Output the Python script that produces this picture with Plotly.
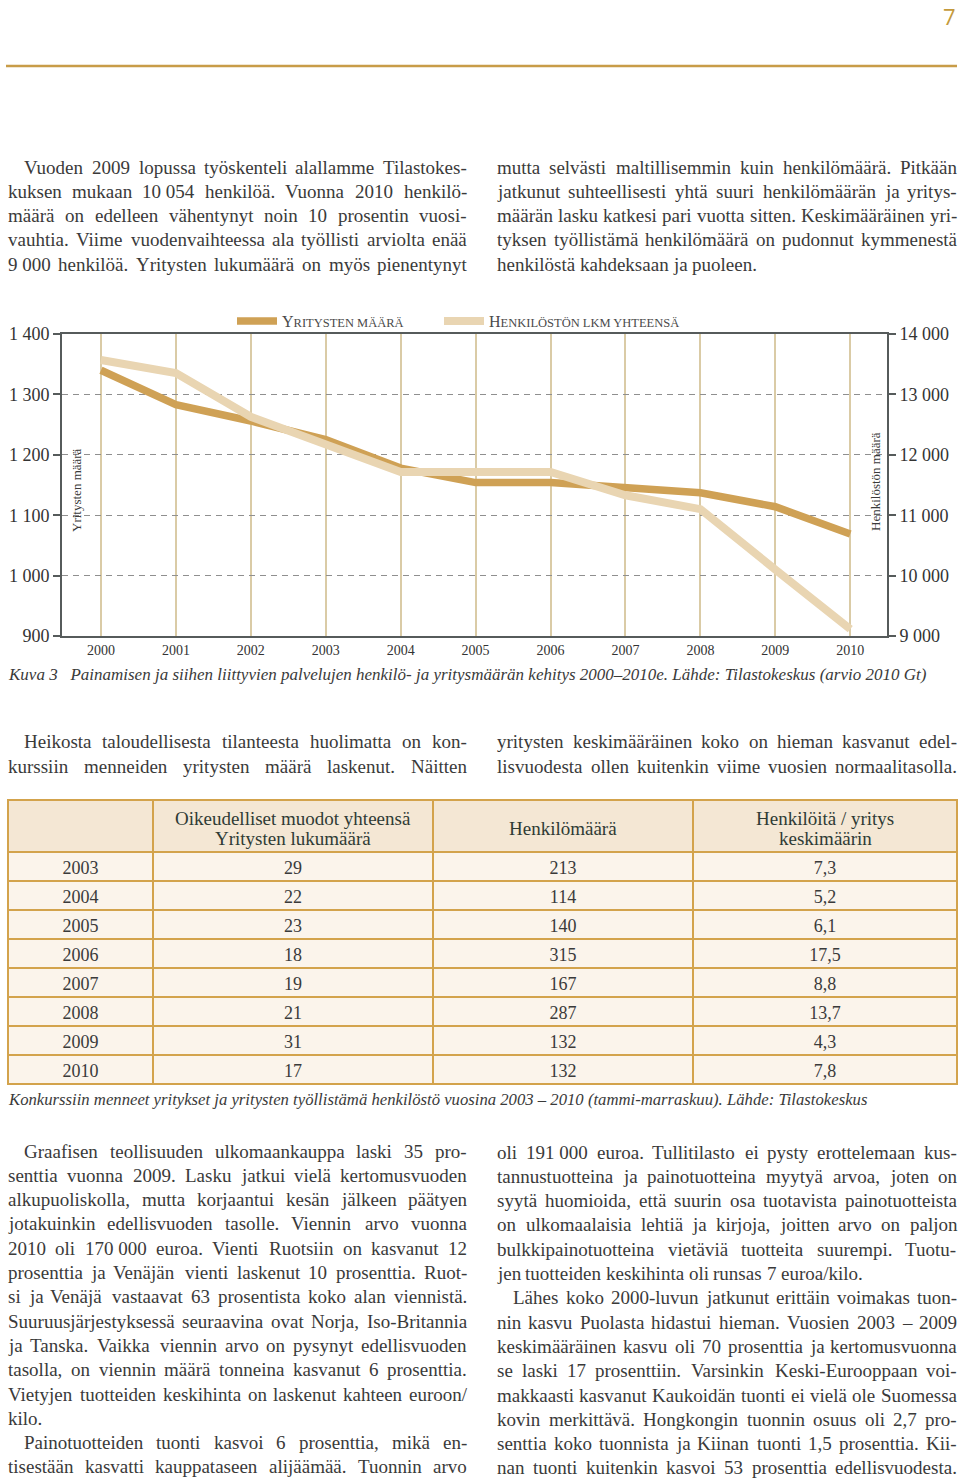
import plotly.graph_objects as go

# ---------------- data ----------------
years = [2000, 2001, 2002, 2003, 2004, 2005, 2006, 2007, 2008, 2009, 2010]
yritykset = [1340, 1283, 1256, 1225, 1178, 1154, 1154, 1144, 1137, 1114, 1069]
henkilosto = [13570, 13355, 12630, 12190, 11715, 11715, 11715, 11330, 11100, 10100, 9115]

left_ticks = [900, 1000, 1100, 1200, 1300, 1400]
left_ticktext = ["900", "1 000", "1 100", "1 200", "1 300", "1 400"]
right_ticks = [9000, 10000, 11000, 12000, 13000, 14000]
right_ticktext = ["9 000", "10 000", "11 000", "12 000", "13 000", "14 000"]

t_years = ["2003", "2004", "2005", "2006", "2007", "2008", "2009", "2010"]
t_companies = [29, 22, 23, 18, 19, 21, 31, 17]
t_persons = [213, 114, 140, 315, 167, 287, 132, 132]
t_ratio = ["7,3", "5,2", "6,1", "17,5", "8,8", "13,7", "4,3", "7,8"]
t_header = [[""], ["Oikeudelliset muodot yhteensä", "Yritysten lukumäärä"],
            ["Henkilömäärä"], ["Henkilöitä / yritys", "keskimäärin"]]

# ---------------- page geometry helpers ----------------
W, H = 960, 1482
def X(px):
    return px / W
def Y(py):
    return 1 - py / H

SERIF = "Liberation Serif"
TEXT = "#3a3a3a"
DARK = "#CFA155"
LIGHT = "#E9D5B2"
GOLD = "#D3A34C"

# Times / Liberation Serif advance widths (units per 1000)
CW = {' ': 250, '!': 333, '(': 333, ')': 333, ',': 250, '-': 333, '.': 250, '/': 278,
      ':': 278, ';': 278, '–': 500, '\u00a0': 250,
      'A': 722, 'B': 667, 'C': 667, 'D': 722, 'E': 611, 'F': 556, 'G': 722, 'H': 722,
      'I': 333, 'J': 389, 'K': 722, 'L': 611, 'M': 889, 'N': 722, 'O': 722, 'P': 556,
      'Q': 722, 'R': 667, 'S': 556, 'T': 611, 'U': 722, 'V': 722, 'W': 944, 'X': 722,
      'Y': 722, 'Z': 611, 'Ä': 722, 'Ö': 722,
      'a': 444, 'b': 500, 'c': 444, 'd': 500, 'e': 444, 'f': 333, 'g': 500, 'h': 500,
      'i': 278, 'j': 278, 'k': 500, 'l': 278, 'm': 778, 'n': 500, 'o': 500, 'p': 500,
      'q': 500, 'r': 333, 's': 389, 't': 278, 'u': 500, 'v': 500, 'w': 722, 'x': 500,
      'y': 500, 'z': 444, 'ä': 444, 'ö': 500}
def tw(s, size):
    return sum(CW.get(c, 500) for c in s) * size / 1000.0

BODY = 19
annotations = []

def note(x, y, text, size, color=TEXT, xanchor="left", yanchor="middle", family=SERIF, angle=0):
    annotations.append(dict(x=X(x), y=Y(y), xref="paper", yref="paper", text=text,
                            showarrow=False, xanchor=xanchor, yanchor=yanchor,
                            textangle=angle, borderpad=0, borderwidth=0,
                            font=dict(family=family, size=size, color=color)))

def add_block(lines, left, right, y0, step=24.3, indent=16):
    for i, (txt, ind, just) in enumerate(lines):
        y = y0 + i * step
        x0 = left + (indent if ind else 0)
        words = txt.split(' ')
        widths = [tw(w, BODY) for w in words]
        if just and len(words) > 1:
            gap = (right - x0 - sum(widths)) / (len(words) - 1)
        else:
            gap = tw(' ', BODY)
        x = x0
        for w, wd in zip(words, widths):
            note(x, y, w, BODY)
            x += wd + gap

NBSP = "\u00a0"
top_left = [
    ("Vuoden 2009 lopussa työskenteli alallamme Tilastokes-", True, True),
    ("kuksen mukaan 10" + NBSP + "054 henkilöä. Vuonna 2010 henkilö-", False, True),
    ("määrä on edelleen vähentynyt noin 10 prosentin vuosi-", False, True),
    ("vauhtia. Viime vuodenvaihteessa ala työllisti arviolta enää", False, True),
    ("9" + NBSP + "000 henkilöä. Yritysten lukumäärä on myös pienentynyt", False, True),
]
top_right = [
    ("mutta selvästi maltillisemmin kuin henkilömäärä. Pitkään", False, True),
    ("jatkunut suhteellisesti yhtä suuri henkilömäärän ja yritys-", False, True),
    ("määrän lasku katkesi pari vuotta sitten. Keskimääräinen yri-", False, True),
    ("tyksen työllistämä henkilömäärä on pudonnut kymmenestä", False, True),
    ("henkilöstä kahdeksaan ja puoleen.", False, False),
]
mid_left = [
    ("Heikosta taloudellisesta tilanteesta huolimatta on kon-", True, True),
    ("kurssiin menneiden yritysten määrä laskenut. Näitten", False, True),
]
mid_right = [
    ("yritysten keskimääräinen koko on hieman kasvanut edel-", False, True),
    ("lisvuodesta ollen kuitenkin viime vuosien normaalitasolla.", False, True),
]
bot_left = [
    ("Graafisen teollisuuden ulkomaankauppa laski 35 pro-", True, True),
    ("senttia vuonna 2009. Lasku jatkui vielä kertomusvuoden", False, True),
    ("alkupuoliskolla, mutta korjaantui kesän jälkeen päätyen", False, True),
    ("jotakuinkin edellisvuoden tasolle. Viennin arvo vuonna", False, True),
    ("2010 oli 170" + NBSP + "000 euroa. Vienti Ruotsiin on kasvanut 12", False, True),
    ("prosenttia ja Venäjän vienti laskenut 10 prosenttia. Ruot-", False, True),
    ("si ja Venäjä vastaavat 63 prosentista koko alan viennistä.", False, True),
    ("Suuruusjärjestyksessä seuraavina ovat Norja, Iso-Britannia", False, True),
    ("ja Tanska. Vaikka viennin arvo on pysynyt edellisvuoden", False, True),
    ("tasolla, on viennin määrä tonneina kasvanut 6 prosenttia.", False, True),
    ("Vietyjen tuotteiden keskihinta on laskenut kahteen euroon/", False, True),
    ("kilo.", False, False),
    ("Painotuotteiden tuonti kasvoi 6 prosenttia, mikä en-", True, True),
    ("tisestään kasvatti kauppataseen alijäämää. Tuonnin arvo", False, True),
]
bot_right = [
    ("oli 191" + NBSP + "000 euroa. Tullitilasto ei pysty erottelemaan kus-", False, True),
    ("tannustuotteina ja painotuotteina myytyä arvoa, joten on", False, True),
    ("syytä huomioida, että suurin osa tuotavista painotuotteista", False, True),
    ("on ulkomaalaisia lehtiä ja kirjoja, joitten arvo on paljon", False, True),
    ("bulkkipainotuotteina vietäviä tuotteita suurempi. Tuotu-", False, True),
    ("jen tuotteiden keskihinta oli runsas 7 euroa/kilo.", False, False),
    ("Lähes koko 2000-luvun jatkunut erittäin voimakas tuon-", True, True),
    ("nin kasvu Puolasta hidastui hieman. Vuosien 2003 – 2009", False, True),
    ("keskimääräinen kasvu oli 70 prosenttia ja kertomusvuonna", False, True),
    ("se laski 17 prosenttiin. Varsinkin Keski-Eurooppaan voi-", False, True),
    ("makkaasti kasvanut Kaukoidän tuonti ei vielä ole Suomessa", False, True),
    ("kovin merkittävä. Hongkongin tuonnin osuus oli 2,7 pro-", False, True),
    ("senttia koko tuonnista ja Kiinan tuonti 1,5 prosenttia. Kii-", False, True),
    ("nan tuonti kuitenkin kasvoi 53 prosenttia edellisvuodesta.", False, True),
]

add_block(top_left, 8, 467, 167)
add_block(top_right, 497, 957, 167)
add_block(mid_left, 8, 467, 742, step=24.0)
add_block(mid_right, 497, 957, 742, step=24.0)
add_block(bot_left, 8, 467, 1151)
add_block(bot_right, 497, 957, 1152)

# captions
note(8, 674, "<i>Kuva 3   Painamisen ja siihen liittyvien palvelujen henkilö- ja yritysmäärän kehitys 2000–2010e. Lähde: Tilastokeskus (arvio 2010 Gt)</i>", 17)
note(8, 1099, "<i>Konkurssiin menneet yritykset ja yritysten työllistämä henkilöstö vuosina 2003 – 2010 (tammi-marraskuu). Lähde: Tilastokeskus</i>", 16.7)
# page number
note(956, 1, "7", 22, color="#C49A3C", xanchor="right", yanchor="top", family="Open Sans")
# axis titles inside plot
note(76, 490, "Yritysten määrä", 13, xanchor="center", angle=-90)
note(875, 482, "Henkilöstön määrä", 13, xanchor="center", angle=-90)

# table header labels (column centres / line positions)
col_edges = [8, 153, 433, 693, 957]
for c, lines in enumerate(t_header):
    cx = (col_edges[c] + col_edges[c + 1]) / 2
    if len(lines) == 1:
        ys = [828]
    else:
        ys = [818, 838]
    for ln, yy in zip(lines, ys):
        note(cx, yy, ln, 19, color="#2f3b35", xanchor="center")

# ---------------- figure ----------------
fig = go.Figure()
fig.add_trace(go.Scatter(
    x=years, y=yritykset, mode="lines", yaxis="y", legend="legend",
    name="Y<span style='font-size:12.5px'>RITYSTEN MÄÄRÄ</span>",
    line=dict(color=DARK, width=7.5)))
fig.add_trace(go.Scatter(
    x=years, y=henkilosto, mode="lines", yaxis="y2", legend="legend2",
    name="H<span style='font-size:12.5px'>ENKILÖSTÖN LKM YHTEENSÄ</span>",
    line=dict(color=LIGHT, width=8)))

fig.add_trace(go.Table(
    domain=dict(x=[X(8), X(957)], y=[Y(1084), Y(800)]),
    columnwidth=[145, 280, 260, 264],
    header=dict(values=["", "", "", ""], fill_color="#F4E7D4", align="center", height=52,
                line=dict(color=GOLD, width=1.5),
                font=dict(family=SERIF, size=19, color="#2f3b35")),
    cells=dict(values=[t_years, t_companies, t_persons, t_ratio],
               fill_color="#FBF4EB", align="center", height=29,
               line=dict(color=GOLD, width=1.5),
               font=dict(family=SERIF, size=18, color=TEXT))))

AX = "#565b5b"
legend_common = dict(orientation="h", yanchor="middle", y=Y(321), xanchor="left",
                     font=dict(family=SERIF, size=16, color="#4a4a4a"),
                     bgcolor="rgba(0,0,0,0)", itemwidth=40)
fig.update_layout(
    width=W, height=H, margin=dict(l=0, r=0, t=0, b=0, pad=0, autoexpand=False),
    paper_bgcolor="white", plot_bgcolor="white",
    showlegend=True,
    legend=dict(legend_common, x=X(232)),
    legend2=dict(legend_common, x=X(439)),
    xaxis=dict(domain=[X(62), X(887)], range=[1999.48, 2010.49],
               tickvals=years, ticktext=[str(y) for y in years],
               tickfont=dict(family=SERIF, size=14, color="#333"),
               showgrid=True, gridcolor="#DACBA6", gridwidth=1.5,
               showline=True, linecolor=AX, linewidth=2, mirror=True,
               ticks="", zeroline=False, automargin=False),
    yaxis=dict(domain=[Y(636), Y(334)], range=[900, 1400],
               tickvals=left_ticks, ticktext=left_ticktext,
               tickfont=dict(family=SERIF, size=18, color="#333"),
               ticks="outside", ticklen=7, tickwidth=1.5, tickcolor=AX,
               showline=True, linecolor=AX, linewidth=2,
               showgrid=True, gridcolor="#8f8f8f", gridwidth=1, griddash="6px,5px",
               zeroline=False, automargin=False),
    yaxis2=dict(overlaying="y", side="right", anchor="x", range=[9000, 14000],
                tickvals=right_ticks, ticktext=right_ticktext,
                tickfont=dict(family=SERIF, size=18, color="#333"),
                ticks="outside", ticklen=7, tickwidth=1.5, tickcolor=AX,
                showline=True, linecolor=AX, linewidth=2, showgrid=False, zeroline=False,
                automargin=False),
    annotations=annotations,
    shapes=[
        dict(type="line", xref="paper", yref="paper", x0=X(6), x1=X(957), y0=Y(66), y1=Y(66),
             line=dict(color="#C89C48", width=2.5)),
        dict(type="rect", xref="paper", yref="paper", x0=X(8), x1=X(957), y0=Y(1084), y1=Y(800),
             line=dict(color=GOLD, width=2)),
    ],
)

fig.write_html("out.html", config={"displayModeBar": False},
               post_script="document.body.style.margin='0';document.body.style.overflow='hidden';")
